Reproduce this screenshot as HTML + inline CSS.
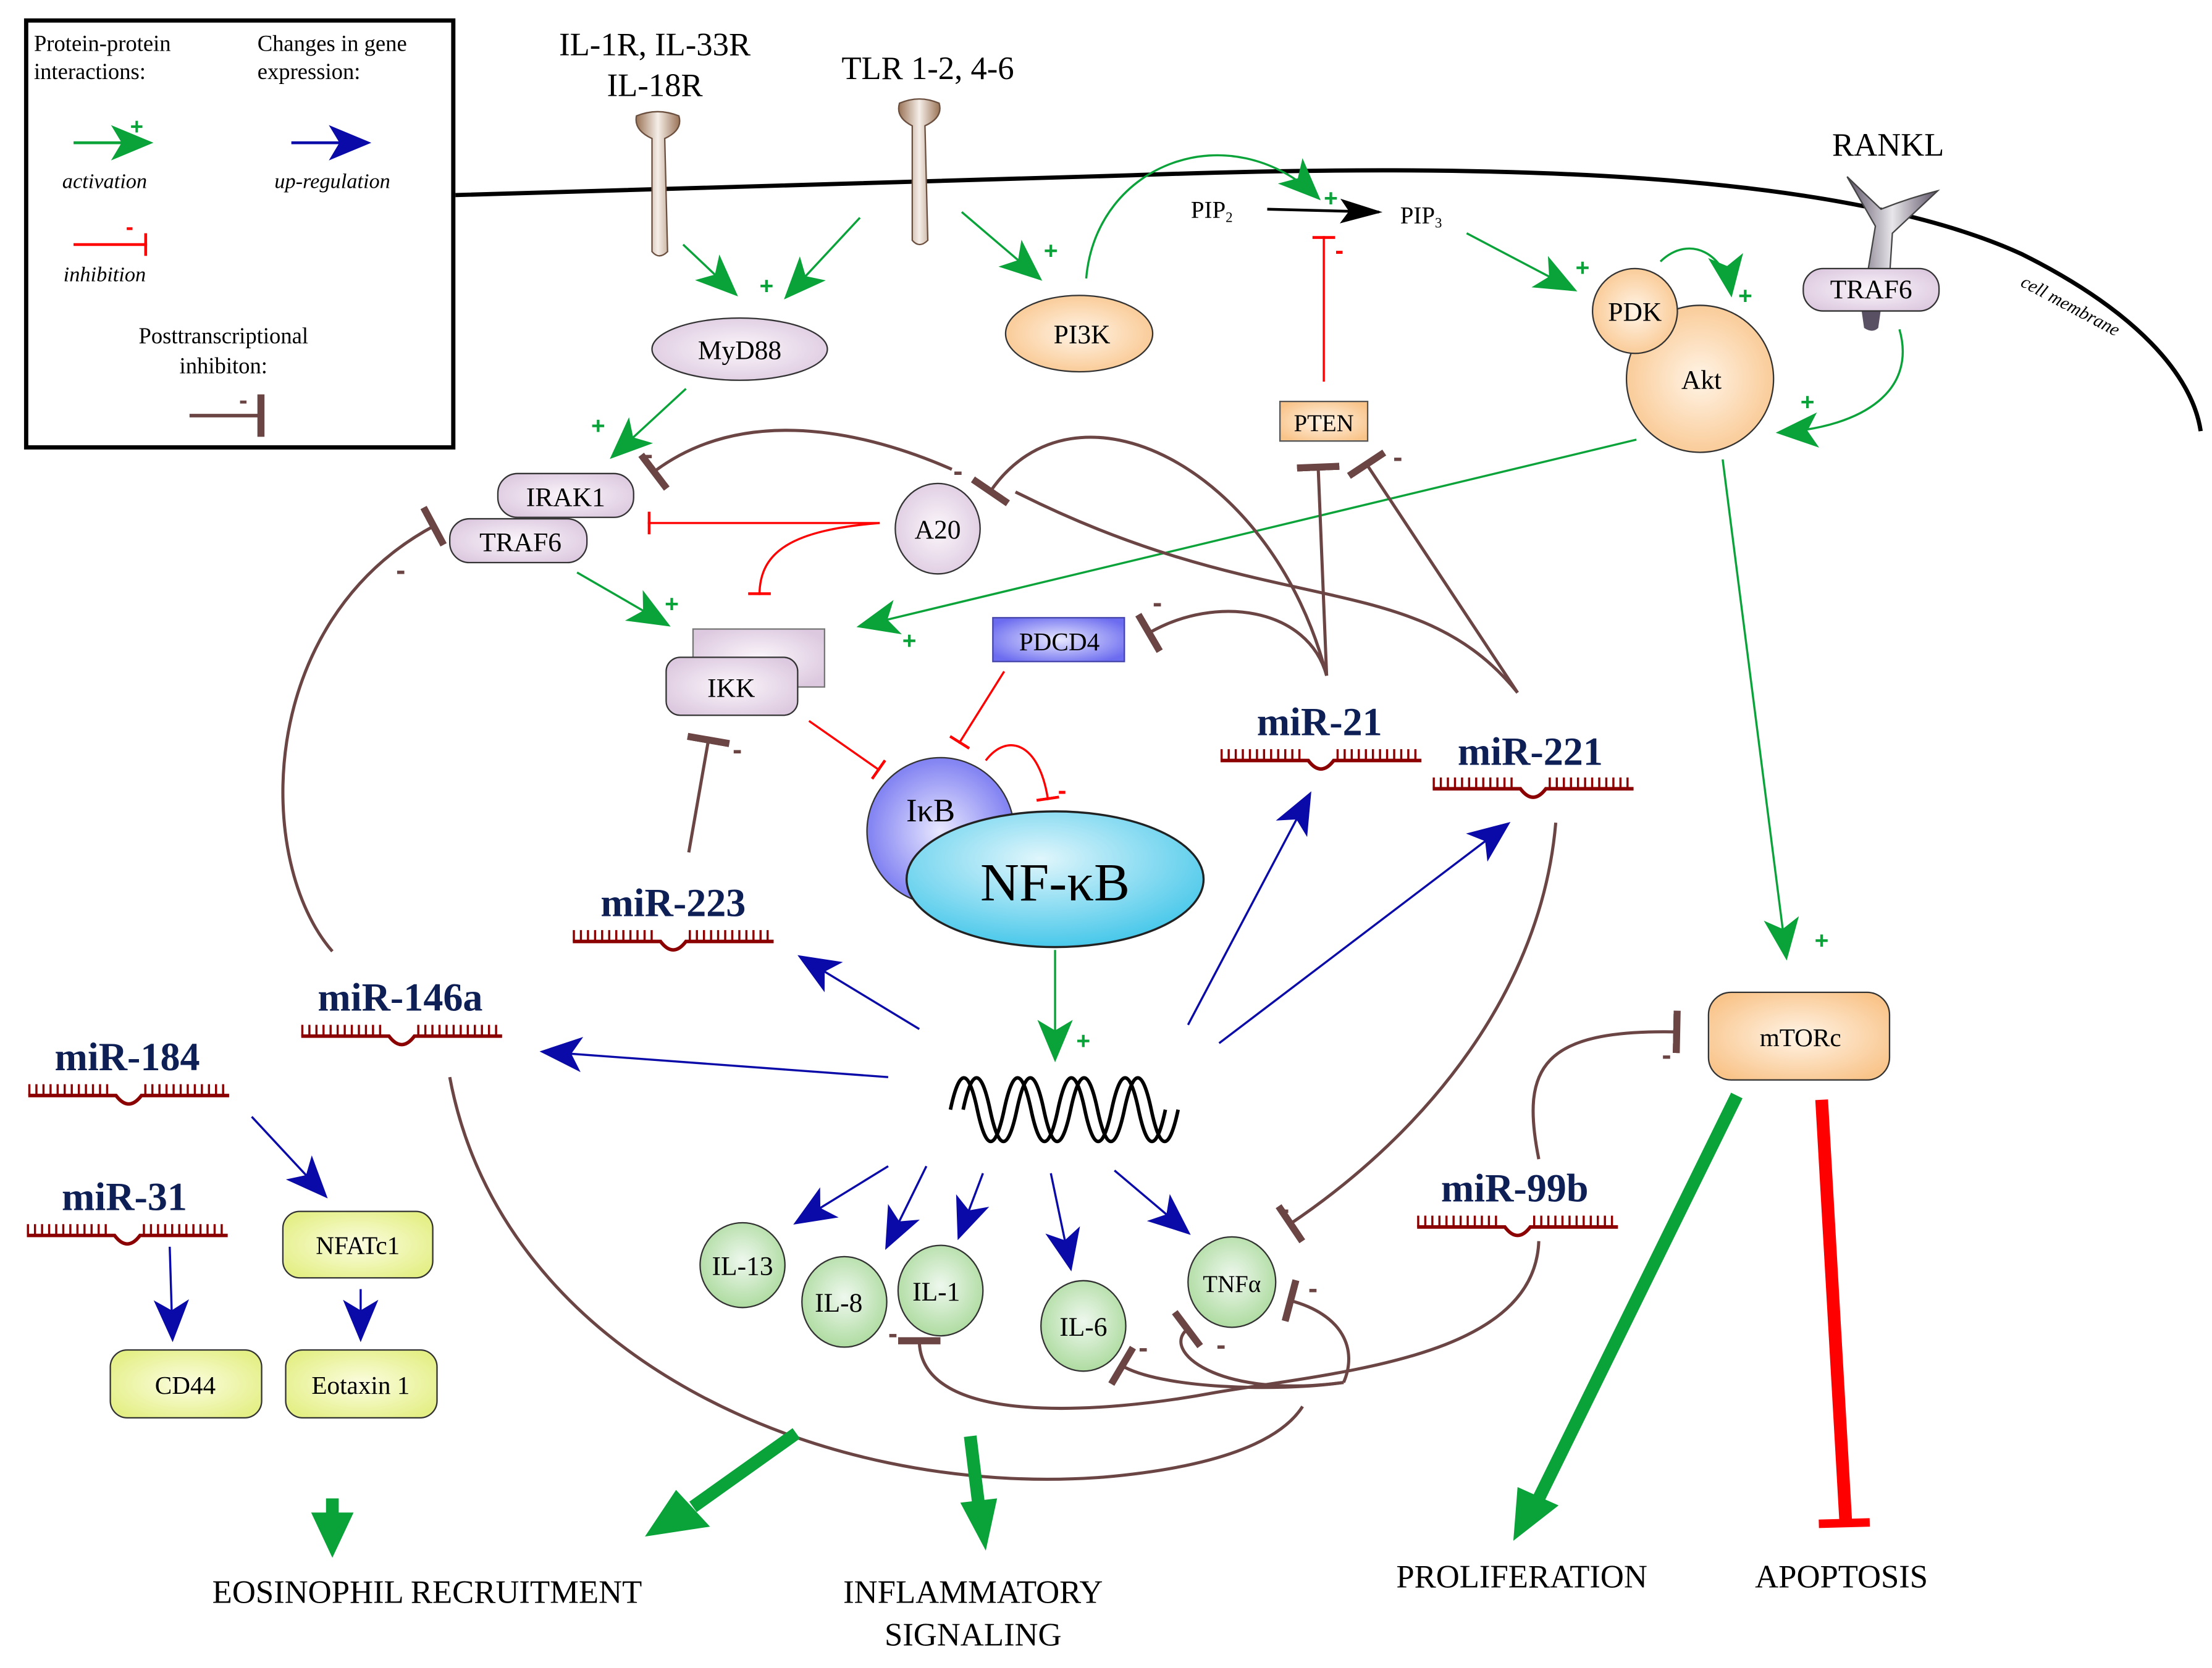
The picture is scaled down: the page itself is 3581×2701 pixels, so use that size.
<!DOCTYPE html>
<html><head><meta charset="utf-8"><style>html,body{margin:0;padding:0;background:#fff}svg{display:block}</style></head><body>
<svg width="3581" height="2701" viewBox="0 0 1564 1180" preserveAspectRatio="none" xmlns="http://www.w3.org/2000/svg" xmlns:xlink="http://www.w3.org/1999/xlink" font-family="Liberation Serif, serif">
<defs>
<marker id="ga" markerUnits="userSpaceOnUse" markerWidth="30" markerHeight="30" refX="22" refY="10" orient="auto" viewBox="0 0 24 20"><path d="M0,0 L24,10 L0,20 L6,10Z" fill="#0aa33a"/></marker>
<marker id="ba" markerUnits="userSpaceOnUse" markerWidth="30" markerHeight="30" refX="22" refY="10" orient="auto" viewBox="0 0 24 20"><path d="M0,0 L24,10 L0,20 L6,10Z" fill="#0a0aa8"/></marker>
<marker id="ka" markerUnits="userSpaceOnUse" markerWidth="30" markerHeight="20" refX="22" refY="7" orient="auto" viewBox="0 0 24 14"><path d="M0,0 L24,7 L0,14 L5,7Z" fill="#000"/></marker>
<marker id="rt" markerUnits="userSpaceOnUse" markerWidth="4" markerHeight="20" refX="2" refY="10" orient="auto" viewBox="0 0 4 20"><rect x="0" y="2" width="2" height="16" fill="#f00"/></marker>
<marker id="bt" markerUnits="userSpaceOnUse" markerWidth="6" markerHeight="30" refX="3" refY="15" orient="auto" viewBox="0 0 6 30"><rect x="0" y="0" width="5" height="30" fill="#6b4444"/></marker>
<radialGradient id="gp" cx="50%" cy="50%" r="60%"><stop offset="0" stop-color="#fbf6fb"/><stop offset="1" stop-color="#dcc8df"/></radialGradient>
<radialGradient id="go" cx="50%" cy="50%" r="60%"><stop offset="0" stop-color="#fff4e6"/><stop offset="1" stop-color="#f9c48a"/></radialGradient>
<radialGradient id="gg" cx="50%" cy="45%" r="60%"><stop offset="0" stop-color="#eef8ee"/><stop offset="1" stop-color="#a9d99a"/></radialGradient>
<radialGradient id="gy" cx="50%" cy="50%" r="60%"><stop offset="0" stop-color="#fbfde0"/><stop offset="1" stop-color="#e4ef86"/></radialGradient>
<radialGradient id="gb" cx="50%" cy="50%" r="60%"><stop offset="0" stop-color="#e8e8ff"/><stop offset="1" stop-color="#6c6cf0"/></radialGradient>
<radialGradient id="gc" cx="45%" cy="35%" r="65%"><stop offset="0" stop-color="#e0f6fc"/><stop offset="1" stop-color="#49c8ea"/></radialGradient>
<linearGradient id="gr" x1="0" x2="1"><stop offset="0" stop-color="#9a7356"/><stop offset=".5" stop-color="#f5eee8"/><stop offset="1" stop-color="#9a7356"/></linearGradient>
<linearGradient id="gk" x1="0" x2="1"><stop offset="0" stop-color="#5a5064"/><stop offset=".5" stop-color="#e8e6ea"/><stop offset="1" stop-color="#5a5064"/></linearGradient>
<g id="m" fill="none" stroke="#8b0000">
<line x1="0" y1="-4" x2="60" y2="-4" stroke-width="8" stroke-dasharray="1.5 3.5"/>
<line x1="82" y1="-4" x2="142" y2="-4" stroke-width="8" stroke-dasharray="1.5 3.5"/>
<path d="M0,0 L62,0 Q71,12 80,0 L142,0" stroke-width="2.5" fill="none"/>
</g>
</defs>

<!-- legend -->
<rect x="18.5" y="14.5" width="302" height="302" fill="#fff" stroke="#000" stroke-width="3"/>
<g font-size="16" fill="#000">
<text x="24" y="36">Protein-protein</text><text x="24" y="56">interactions:</text>
<text x="182" y="36">Changes in gene</text><text x="182" y="56">expression:</text>
<text x="158" y="243" text-anchor="middle">Posttranscriptional</text><text x="158" y="264" text-anchor="middle">inhibiton:</text>
<g font-style="italic" font-size="15"><text x="74" y="133" text-anchor="middle">activation</text><text x="235" y="133" text-anchor="middle">up-regulation</text><text x="74" y="199" text-anchor="middle">inhibition</text></g>
</g>
<line x1="52" y1="101" x2="106" y2="101" stroke="#0aa33a" stroke-width="2" marker-end="url(#ga)"/>
<text x="92" y="95" fill="#0aa33a" font-size="16" font-weight="bold" font-family="Liberation Sans, sans-serif">+</text>
<line x1="206" y1="101" x2="260" y2="101" stroke="#0a0aa8" stroke-width="2" marker-end="url(#ba)"/>
<line x1="52" y1="173" x2="104" y2="173" stroke="#f00" stroke-width="2" marker-end="url(#rt)"/>
<text x="89" y="166" fill="#f00" font-size="16" font-weight="bold" font-family="Liberation Sans, sans-serif">-</text>
<line x1="134" y1="294" x2="185" y2="294" stroke="#6b4444" stroke-width="2.5" marker-end="url(#bt)"/>
<text x="169" y="289" fill="#6b4444" font-size="18" font-weight="bold" font-family="Liberation Sans, sans-serif">-</text>

<!-- membrane -->
<path d="M322,138 L800,124 C1050,115 1300,120 1430,180 C1510,220 1550,265 1556,305" fill="none" stroke="#000" stroke-width="3"/>
<text x="0" y="0" font-size="13" font-style="italic" transform="translate(1428,202) rotate(28)">cell membrane</text>

<!-- receptors -->
<path d="M450,82 Q465,76 480,82 Q483,92 470,98 L472,178 Q466,184 461,178 L461,98 Q448,92 450,82Z" fill="url(#gr)" stroke="#6b5040" stroke-width="1"/>
<path d="M636,73 Q650,67 664,73 Q667,83 654,89 L656,170 Q650,176 645,170 L645,89 Q633,83 636,73Z" fill="url(#gr)" stroke="#6b5040" stroke-width="1"/>
<g font-size="23" text-anchor="middle"><text x="463" y="39">IL-1R, IL-33R</text><text x="463" y="68">IL-18R</text><text x="656" y="56">TLR 1-2, 4-6</text><text x="1335" y="110">RANKL</text></g>
<path d="M1306,125 L1330,148 Q1350,140 1370,135 L1338,165 L1336,196 L1320,196 L1326,160Z" fill="url(#gk)" stroke="#444" stroke-width="1"/>
<path d="M1316,218 L1330,218 L1328,232 Q1324,236 1318,232Z" fill="#5a5064"/>
<rect x="1275" y="190" width="96" height="30" rx="14" fill="url(#gp)" stroke="#333"/>
<text x="1323" y="211" font-size="19" text-anchor="middle">TRAF6</text>

<!-- nodes -->
<g font-size="19" text-anchor="middle">
<ellipse cx="523" cy="247" rx="62" ry="22" fill="url(#gp)" stroke="#333"/><text x="523" y="254">MyD88</text>
<ellipse cx="763" cy="236" rx="52" ry="27" fill="url(#go)" stroke="#333"/><text x="765" y="243">PI3K</text>
<rect x="905" y="284" width="62" height="28" fill="url(#go)" stroke="#555"/><text x="936" y="305" font-size="17">PTEN</text>
<circle cx="1202" cy="268" r="52" fill="url(#go)" stroke="#333"/><text x="1203" y="275">Akt</text>
<circle cx="1156" cy="220" r="30" fill="url(#go)" stroke="#333"/><text x="1156" y="227">PDK</text>
<rect x="352" y="335" width="96" height="31" rx="14" fill="url(#gp)" stroke="#333"/><text x="400" y="358">IRAK1</text>
<rect x="318" y="367" width="97" height="31" rx="14" fill="url(#gp)" stroke="#333"/><text x="368" y="390">TRAF6</text>
<ellipse cx="663" cy="374" rx="30" ry="32" fill="url(#gp)" stroke="#333"/><text x="663" y="381">A20</text>
<rect x="490" y="445" width="93" height="41" fill="url(#gp)" stroke="#777"/>
<rect x="471" y="465" width="93" height="41" rx="10" fill="url(#gp)" stroke="#333"/><text x="517" y="493">IKK</text>
<rect x="702" y="437" width="93" height="31" fill="url(#gb)" stroke="#4444aa"/><text x="749" y="460" font-size="18">PDCD4</text>
</g>
<text x="842" y="154" font-size="17">PIP<tspan font-size="10" dy="3">2</tspan></text>
<line x1="896" y1="148" x2="975" y2="150" stroke="#000" stroke-width="2" marker-end="url(#ka)"/>
<text x="990" y="158" font-size="17">PIP<tspan font-size="10" dy="3">3</tspan></text>
<circle cx="665" cy="588" r="52" fill="url(#gb)" stroke="#333"/><text x="658" y="581" font-size="23" text-anchor="middle">IκB</text>
<ellipse cx="746" cy="622" rx="105" ry="48" fill="url(#gc)" stroke="#222" stroke-width="1.5"/><text x="746" y="637" font-size="38" text-anchor="middle">NF-κB</text>
<rect x="1208" y="702" width="128" height="62" rx="16" fill="url(#go)" stroke="#333"/><text x="1273" y="740" font-size="18" text-anchor="middle">mTORc</text>

<!-- DNA -->
<path d="M672,785 q9.5,-45 19,0 t19,0 t19,0 t19,0 t19,0 t19,0 t19,0 t19,0" fill="none" stroke="#000" stroke-width="2.5"/>
<path d="M681,785 q9.5,-45 19,0 t19,0 t19,0 t19,0 t19,0 t19,0 t19,0 t19,0" fill="none" stroke="#000" stroke-width="2.5"/>

<!-- cytokines -->
<g font-size="19" text-anchor="middle">
<circle cx="525" cy="895" r="30" fill="url(#gg)" stroke="#333"/><text x="525" y="902">IL-13</text>
<ellipse cx="597" cy="921" rx="30" ry="32" fill="url(#gg)" stroke="#333"/><text x="593" y="928">IL-8</text>
<ellipse cx="665" cy="913" rx="30" ry="32" fill="url(#gg)" stroke="#333"/><text x="662" y="920">IL-1</text>
<ellipse cx="766" cy="938" rx="30" ry="32" fill="url(#gg)" stroke="#333"/><text x="766" y="945">IL-6</text>
<ellipse cx="871" cy="907" rx="31" ry="32" fill="url(#gg)" stroke="#333"/><text x="871" y="914" font-size="17">TNFα</text>
</g>
<g font-size="18" text-anchor="middle">
<rect x="200" y="857" width="106" height="47" rx="12" fill="url(#gy)" stroke="#333"/><text x="253" y="887">NFATc1</text>
<rect x="78" y="955" width="107" height="48" rx="12" fill="url(#gy)" stroke="#333"/><text x="131" y="986">CD44</text>
<rect x="202" y="955" width="107" height="48" rx="12" fill="url(#gy)" stroke="#333"/><text x="255" y="986">Eotaxin 1</text>
</g>

<!-- miRNAs -->
<g font-size="28" font-weight="bold" fill="#0d1f55" text-anchor="middle">
<text x="933" y="520">miR-21</text><text x="1082" y="541">miR-221</text><text x="476" y="648">miR-223</text>
<text x="283" y="715">miR-146a</text><text x="90" y="757">miR-184</text><text x="88" y="856">miR-31</text><text x="1071" y="850">miR-99b</text>
</g>
<use xlink:href="#m" href="#m" x="863" y="538"/><use xlink:href="#m" href="#m" x="1013" y="558"/><use xlink:href="#m" href="#m" x="405" y="666"/><use xlink:href="#m" href="#m" x="213" y="733"/><use xlink:href="#m" href="#m" x="20" y="775"/><use xlink:href="#m" href="#m" x="19" y="874"/><use xlink:href="#m" href="#m" x="1002" y="868"/>

<!-- green arrows -->
<g stroke="#0aa33a" stroke-width="1.5" fill="none">
<line x1="483" y1="173" x2="520" y2="208" marker-end="url(#ga)"/>
<line x1="608" y1="154" x2="556" y2="210" marker-end="url(#ga)"/>
<line x1="680" y1="150" x2="735" y2="197" marker-end="url(#ga)"/>
<path d="M768,197 C775,115 870,80 932,140" marker-end="url(#ga)"/>
<line x1="1037" y1="165" x2="1113" y2="205" marker-end="url(#ga)"/>
<path d="M1174,185 C1195,165 1220,180 1224,208" marker-end="url(#ga)"/>
<path d="M1343,233 C1355,275 1320,302 1258,306" marker-end="url(#ga)"/>
<line x1="485" y1="275" x2="433" y2="323" marker-end="url(#ga)"/>
<line x1="408" y1="405" x2="472" y2="442" marker-end="url(#ga)"/>
<line x1="1157" y1="311" x2="608" y2="443" marker-end="url(#ga)"/>
<line x1="1218" y1="325" x2="1263" y2="677" marker-end="url(#ga)"/>
<line x1="746" y1="672" x2="746" y2="749" marker-end="url(#ga)"/>
</g>
<g fill="#0aa33a" font-size="17" font-weight="bold" font-family="Liberation Sans, sans-serif">
<text x="537" y="208">+</text><text x="738" y="183">+</text><text x="936" y="146">+</text><text x="1114" y="195">+</text><text x="1229" y="215">+</text><text x="1273" y="290">+</text><text x="418" y="307">+</text><text x="470" y="433">+</text><text x="638" y="459">+</text><text x="1283" y="671">+</text><text x="761" y="742">+</text>
</g>

<!-- blue arrows -->
<g stroke="#0a0aa8" stroke-width="1.5" fill="none">
<line x1="650" y1="728" x2="566" y2="677" marker-end="url(#ba)"/>
<line x1="628" y1="762" x2="384" y2="744" marker-end="url(#ba)"/>
<line x1="840" y1="725" x2="926" y2="562" marker-end="url(#ba)"/>
<line x1="862" y1="738" x2="1066" y2="583" marker-end="url(#ba)"/>
<line x1="628" y1="825" x2="563" y2="865" marker-end="url(#ba)"/>
<line x1="655" y1="825" x2="627" y2="882" marker-end="url(#ba)"/>
<line x1="695" y1="830" x2="678" y2="875" marker-end="url(#ba)"/>
<line x1="743" y1="830" x2="757" y2="897" marker-end="url(#ba)"/>
<line x1="788" y1="828" x2="840" y2="872" marker-end="url(#ba)"/>
<line x1="178" y1="790" x2="230" y2="846" marker-end="url(#ba)"/>
<line x1="120" y1="882" x2="122" y2="947" marker-end="url(#ba)"/>
<line x1="255" y1="912" x2="255" y2="947" marker-end="url(#ba)"/>
</g>

<!-- red inhibitions -->
<g stroke="#f00" stroke-width="1.5" fill="none">
<line x1="622" y1="370" x2="458" y2="370" marker-end="url(#rt)"/>
<path d="M622,370 C560,375 537,390 537,421" marker-end="url(#rt)"/>
<line x1="572" y1="510" x2="622" y2="545" marker-end="url(#rt)"/>
<line x1="710" y1="475" x2="678" y2="526" marker-end="url(#rt)"/>
<path d="M697,538 C712,518 735,525 741,566" marker-end="url(#rt)"/>
<line x1="936" y1="270" x2="936" y2="167" marker-end="url(#rt)"/>
</g>
<g fill="#f00" font-size="18" font-weight="bold" font-family="Liberation Sans, sans-serif"><text x="944" y="183">-</text><text x="748" y="565">-</text></g>

<!-- brown inhibitions -->
<g stroke="#6b4444" stroke-width="2.2" fill="none">
<path d="M673,332 C600,300 520,290 462,334" marker-end="url(#bt)"/>
<path d="M718,348 C900,440 1000,400 1073,490"/>
<path d="M938,478 C900,330 760,260 700,348" marker-end="url(#bt)"/>
<line x1="938" y1="478" x2="932" y2="330" marker-end="url(#bt)"/>
<path d="M938,478 C925,430 860,420 812,448" marker-end="url(#bt)"/>
<line x1="1073" y1="490" x2="966" y2="328" marker-end="url(#bt)"/>
<line x1="487" y1="603" x2="501" y2="523" marker-end="url(#bt)"/>
<path d="M235,673 C180,610 180,440 307,372" marker-end="url(#bt)"/>
<path d="M318,762 C355,960 580,1060 780,1045 C860,1038 905,1020 921,995"/>
<path d="M1100,582 C1090,700 1010,800 912,866" marker-end="url(#bt)"/>
<path d="M1088,820 C1075,755 1090,728 1186,730" marker-end="url(#bt)"/>
<path d="M1088,878 C1085,960 950,970 860,985 C780,1000 650,1010 650,948" marker-end="url(#bt)"/>
<path d="M950,978 C900,985 820,982 793,966" marker-end="url(#bt)"/>
<path d="M950,978 C860,990 820,955 840,940" marker-end="url(#bt)"/>
<path d="M950,978 C960,955 950,930 912,920" marker-end="url(#bt)"/>
</g>
<g fill="#6b4444" font-size="20" font-weight="bold" font-family="Liberation Sans, sans-serif">
<text x="455" y="328">-</text><text x="674" y="340">-</text><text x="985" y="330">-</text><text x="815" y="433">-</text><text x="518" y="537">-</text><text x="280" y="410">-</text>
<text x="1175" y="753">-</text><text x="905" y="862">-</text><text x="925" y="918">-</text><text x="628" y="950">-</text><text x="805" y="960">-</text><text x="860" y="958">-</text>
</g>

<!-- big arrows -->
<g stroke="#0aa33a" stroke-width="9" fill="none">
<line x1="235" y1="1060" x2="235" y2="1072"/>
<line x1="563" y1="1014" x2="490" y2="1066"/>
<line x1="686" y1="1016" x2="692" y2="1065"/>
<line x1="1228" y1="775" x2="1088" y2="1060"/>
</g>
<g fill="#0aa33a">
<path d="M220,1070 L250,1070 L235,1102Z"/>
<path d="M478,1054 L502,1080 L456,1087Z"/>
<path d="M679,1063 L705,1060 L697,1097Z"/>
<path d="M1073,1052 L1102,1065 L1070,1090Z"/>
</g>
<line x1="1288" y1="778" x2="1305" y2="1076" stroke="#f00" stroke-width="9"/>
<line x1="1286" y1="1078" x2="1322" y2="1077" stroke="#f00" stroke-width="6"/>

<g font-size="23" text-anchor="middle">
<text x="302" y="1134">EOSINOPHIL RECRUITMENT</text>
<text x="688" y="1134">INFLAMMATORY</text><text x="688" y="1164">SIGNALING</text>
<text x="1076" y="1123">PROLIFERATION</text><text x="1302" y="1123">APOPTOSIS</text>
</g>
</svg>
</body></html>
